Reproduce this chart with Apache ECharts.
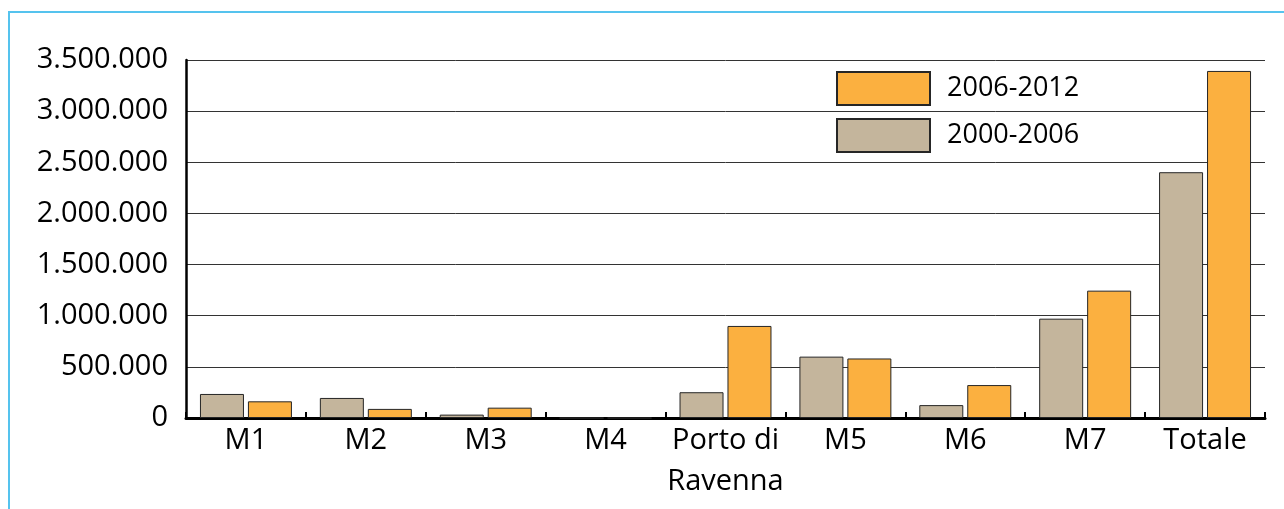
<!DOCTYPE html>
<html>
<head>
<meta charset="utf-8">
<script src="https://cdn.jsdelivr.net/npm/echarts@6/dist/echarts.min.js"></script>
<style>
  html, body { margin: 0; padding: 0; background: #fff; }
  #chart { width: 1284px; height: 509px; }
</style>
</head>
<body>
<div id="chart"></div>
<script>
// categorie (asse x)
const categories = ["M1", "M2", "M3", "M4", "Porto di\nRavenna", "M5", "M6", "M7", "Totale"];
// valori 2000-2006
const values2000 = [235000, 196000, 33000, 0, 252000, 600000, 126000, 971000, 2403000];
// valori 2006-2012
const values2006 = [163000, 89000, 101000, 0, 900000, 582000, 322000, 1245000, 3393000];
// etichette asse y
const yTicks = [0, 500000, 1000000, 1500000, 2000000, 2500000, 3000000, 3500000];

const FONT = "Open Sans";

// formato con punto come separatore delle migliaia
function formatIt(v) {
  return String(v).replace(/\B(?=(\d{3})+(?!\d))/g, ".");
}

let chart = echarts.init(document.getElementById("chart"));
chart.setOption({
  animation: false,
  textStyle: { fontFamily: FONT },
  graphic: [
    {
      type: "polyline",
      silent: true,
      shape: { points: [[9, 509], [9, 12], [1284, 12]] },
      style: { stroke: "#55c3ee", lineWidth: 2, fill: null }
    }
  ],
  grid: {
    left: 186,
    right: 19,
    top: 60,
    bottom: 91
  },
  legend: {
    orient: "vertical",
    left: 836,
    top: 71,
    padding: 0,
    itemWidth: 93,
    itemHeight: 33,
    itemGap: 12,
    icon: "rect",
    data: ["2006-2012", "2000-2006"],
    textStyle: { fontFamily: FONT, fontSize: 27, color: "#000", padding: [0, 0, 0, 12] }
  },
  xAxis: {
    type: "category",
    data: categories,
    axisLine: { lineStyle: { color: "#000", width: 3 } },
    axisTick: { show: true, inside: true, length: 6, lineStyle: { color: "#000", width: 2 } },
    axisLabel: {
      interval: 0,
      color: "#000",
      fontFamily: FONT,
      fontSize: 29,
      lineHeight: 41,
      margin: 2
    }
  },
  yAxis: {
    type: "value",
    min: 0,
    max: yTicks[yTicks.length - 1],
    interval: yTicks[1] - yTicks[0],
    axisLine: { show: true, lineStyle: { color: "#000", width: 2.5 } },
    axisTick: { show: false },
    splitLine: { lineStyle: { color: "#333", width: 1 } },
    axisLabel: {
      color: "#000",
      fontFamily: FONT,
      fontSize: 29,
      margin: 18,
      formatter: formatIt
    }
  },
  series: [
    {
      name: "2000-2006",
      type: "bar",
      data: values2000,
      barWidth: 44,
      barGap: "9%",
      itemStyle: { color: "#c4b59c", borderColor: "#262626", borderWidth: 1 }
    },
    {
      name: "2006-2012",
      type: "bar",
      data: values2006,
      barWidth: 44,
      barGap: "9%",
      itemStyle: { color: "#fbb040", borderColor: "#262626", borderWidth: 1 }
    }
  ]
});
</script>
</body>
</html>
